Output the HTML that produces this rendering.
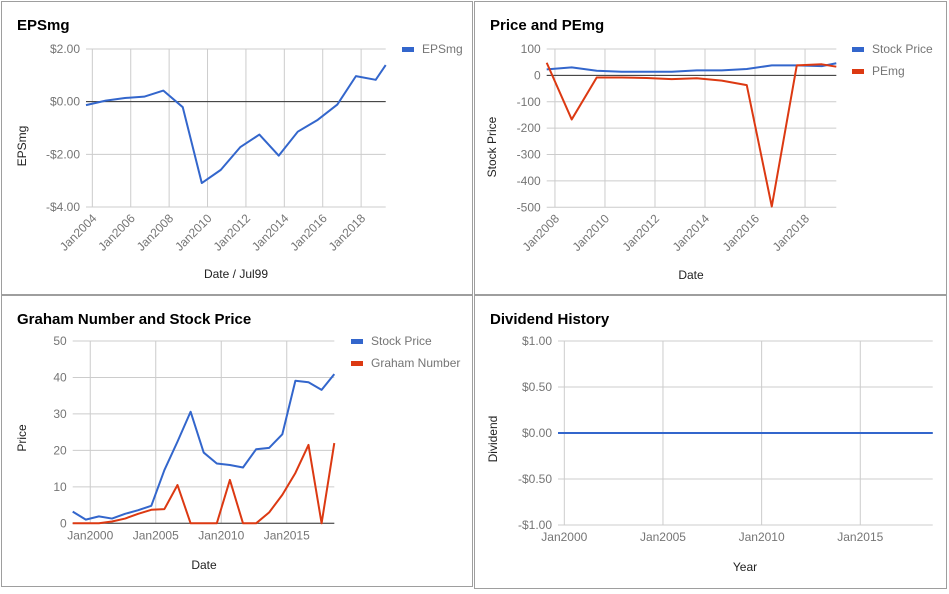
<!DOCTYPE html>
<html><head><meta charset="utf-8"><style>
body{margin:0;background:#fff;width:949px;height:594px;overflow:hidden;font-family:"Liberation Sans",sans-serif}
svg{position:absolute;left:0;top:0}
</style></head><body>
<svg id="s" width="949" height="594" xmlns="http://www.w3.org/2000/svg"></svg>
<script>
// Chart 1: EPSmg
const epsDates=[2003.67,2004.7,2005.7,2006.7,2007.7,2008.71,2009.7,2010.69,2011.7,2012.7,2013.71,2014.7,2015.74,2016.76,2017.73,2018.76,2019.28];
const epsValues=[-0.13,0.04,0.14,0.19,0.42,-0.21,-3.09,-2.59,-1.73,-1.25,-2.05,-1.14,-0.69,-0.11,0.97,0.83,1.39];
const epsYTicks=[2,0,-2,-4];
const epsYLabels=["$2.00","$0.00","-$2.00","-$4.00"];
const epsXTicks=[2004,2006,2008,2010,2012,2014,2016,2018];
// Chart 2: Price and PEmg
const peDates=[2007.67,2008.67,2009.67,2010.67,2011.67,2012.67,2013.67,2014.67,2015.67,2016.67,2017.67,2018.67,2019.25];
const peStock=[22.7,30.3,17.7,13.9,13.9,13.9,19,19,24,38,38,35,46];
const pePEmg=[48,-167,-8,-8,-10,-14,-11,-20,-37,-497,38,42,33];
const peYTicks=[100,0,-100,-200,-300,-400,-500];
const peXTicks=[2008,2010,2012,2014,2016,2018];
// Chart 3: Graham
const grDates=[1998.66,1999.66,2000.66,2001.66,2002.66,2003.66,2004.66,2005.66,2006.66,2007.66,2008.66,2009.66,2010.66,2011.66,2012.66,2013.66,2014.66,2015.66,2016.66,2017.66,2018.63];
const grStock=[3.2,1,1.9,1.3,2.6,3.6,4.8,14.6,22.4,30.6,19.4,16.4,16.0,15.3,20.3,20.7,24.4,39.1,38.7,36.6,40.9];
const grGraham=[0,0,0,0.5,1.3,2.6,3.7,3.9,10.5,0,0,0,11.9,0,0,3,7.8,13.8,21.5,0,22];
const grYTicks=[50,40,30,20,10,0];
const grXTicks=[2000,2005,2010,2015];
// Chart 4: Dividend
const divDates=[1999.68,2000.68,2001.68,2002.68,2003.68,2004.68,2005.68,2006.68,2007.68,2008.68,2009.68,2010.68,2011.68,2012.68,2013.68,2014.68,2015.68,2016.68,2017.68,2018.67];
const divValues=[0,0,0,0,0,0,0,0,0,0,0,0,0,0,0,0,0,0,0,0];
const divYTicks=[1,0.5,0,-0.5,-1];
const divYLabels=["$1.00","$0.50","$0.00","-$0.50","-$1.00"];
const divXTicks=[2000,2005,2010,2015];

const S=document.getElementById('s');
const NS='http://www.w3.org/2000/svg';
function mk(tag,at,txt){const e=document.createElementNS(NS,tag);for(const k in at)e.setAttribute(k,at[k]);if(txt!==undefined)e.textContent=txt;S.appendChild(e);return e;}
function txt(x,y,t,anchor,size,fill,extra){const e=mk('text',{x:x,y:y,'text-anchor':anchor,'font-size':size,fill:fill},t);if(extra)for(const k in extra)e.setAttribute(k,extra[k]);return e;}

function chart(c){
  const box=mk('rect',{x:c.box[0]+0.5,y:c.box[1]+0.5,width:c.box[2],height:c.box[3],fill:'#fff',stroke:'#9e9e9e'});
  
  const t=txt(c.box[0]+16,c.box[1]+29,c.title,'start',15,'#000',{'font-weight':'bold'});
  
  const X=v=>c.px[0]+(v-c.dx[0])/(c.dx[1]-c.dx[0])*(c.px[1]-c.px[0]);
  const Y=v=>c.py[1]+(v-c.dy[0])/(c.dy[1]-c.dy[0])*(c.py[0]-c.py[1]);
  c.yt.forEach((v,i)=>{
    const g=mk('line',{x1:c.px[0],x2:c.px[1],y1:Y(v),y2:Y(v),stroke:'#ccc'});
    
    const l=txt(c.px[0]-6,Y(v)+4,c.yl?c.yl[i]:String(v),'end',12,'#757575');
    
  });
  c.xt.forEach(v=>{
    const g=mk('line',{x1:X(v),x2:X(v),y1:c.py[0],y2:c.py[1],stroke:'#ccc'});
    
    let l;
    if(c.rot){l=txt(X(v)+5,c.py[1]+12,'Jan'+v,'end',12,'#757575',{transform:'rotate(-45 '+(X(v)+5)+' '+(c.py[1]+12)+')'});}
    else{l=txt(X(v),c.py[1]+16,'Jan'+v,'middle',12,'#757575');}
    
  });
  const z=mk('line',{x1:c.px[0],x2:c.px[1],y1:Y(0),y2:Y(0),stroke:'#333'});
  
  c.series.forEach((s,si)=>{
    const p=mk('polyline',{points:s.d.map((v,i)=>X(c.dates[i])+','+Y(v)).join(' '),fill:'none',stroke:s.col,'stroke-width':2,'stroke-linejoin':'round'});
    
    const sw=mk('rect',{x:c.leg[0],y:c.leg[1]+si*22-2,width:12,height:5,fill:s.col});
    
    const lt=txt(c.leg[0]+20,c.leg[1]+si*22+4,s.name,'start',12,'#757575');
    
  });
  const ya=txt(c.yat[0],c.yat[1],c.ytitle,'middle',12,'#222',{transform:'rotate(-90 '+c.yat[0]+' '+c.yat[1]+')'});
  
  const xa=txt(c.xat[0],c.xat[1],c.xtitle,'middle',12,'#222');
  
}
chart({id:'epsmg',box:[1,1,471,293],title:'EPSmg',px:[86,385.7],py:[49,207],dx:[2003.67,2019.28],dy:[-4,2],dates:epsDates,
  yt:epsYTicks,yl:epsYLabels,xt:epsXTicks,rot:true,leg:[402,49],series:[{id:'epsmg',name:'EPSmg',col:'#3366cc',d:epsValues}],
  ytitle:'EPSmg',yat:[26,146],xtitle:'Date / Jul99',xat:[236,278]});
chart({id:'price-pemg',box:[474,1,472,293],title:'Price and PEmg',px:[546.7,836.3],py:[49,207.3],dx:[2007.67,2019.25],dy:[-500,100],dates:peDates,
  yt:peYTicks,xt:peXTicks,rot:true,leg:[852,49],series:[{id:'stock-price',name:'Stock Price',col:'#3366cc',d:peStock},{id:'pemg',name:'PEmg',col:'#dc3912',d:pePEmg}],
  ytitle:'Stock Price',yat:[496,147],xtitle:'Date',xat:[691,279]});
chart({id:'graham',box:[1,295,471,291],title:'Graham Number and Stock Price',px:[72.7,334.3],py:[341,523.3],dx:[1998.66,2018.63],dy:[0,50],dates:grDates,
  yt:grYTicks,xt:grXTicks,rot:false,leg:[351,341],series:[{id:'graham-stock-price',name:'Stock Price',col:'#3366cc',d:grStock},{id:'graham-number',name:'Graham Number',col:'#dc3912',d:grGraham}],
  ytitle:'Price',yat:[26,438],xtitle:'Date',xat:[204,569]});
chart({id:'dividend',box:[474,295,472,293],title:'Dividend History',px:[558,932.7],py:[341,525],dx:[1999.68,2018.67],dy:[-1,1],dates:divDates,
  yt:divYTicks,yl:divYLabels,xt:divXTicks,rot:false,leg:[-100,-100],series:[{id:'dividend',name:'',col:'#3366cc',d:divValues}],
  ytitle:'Dividend',yat:[497,439],xtitle:'Year',xat:[745,571]});
</script>
</body></html>
